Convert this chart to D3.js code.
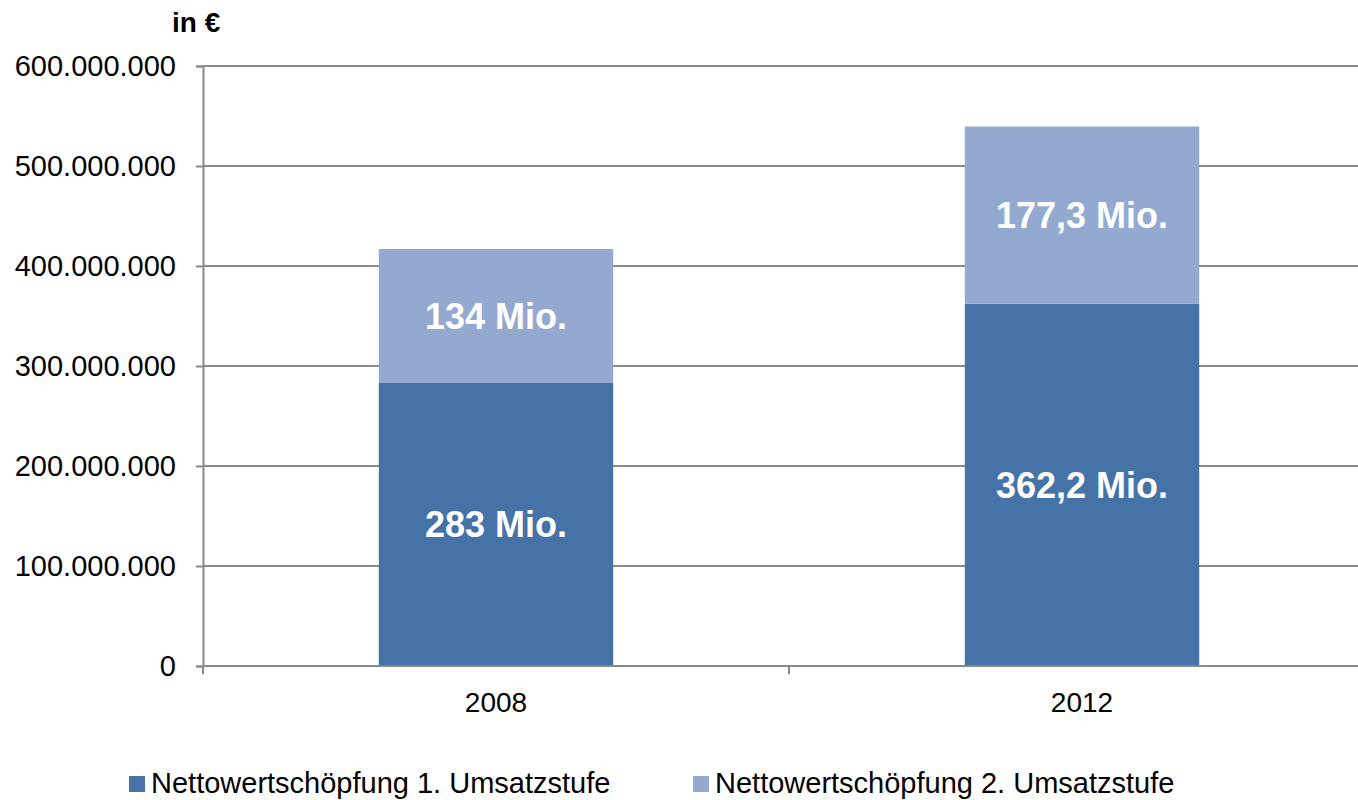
<!DOCTYPE html>
<html>
<head>
<meta charset="utf-8">
<script src="https://cdn.jsdelivr.net/npm/d3@7"></script>
<style>
  html, body { margin: 0; padding: 0; background: #fff; }
  svg { display: block; font-family: "Liberation Sans", Arial, sans-serif; }
</style>
</head>
<body>
<svg id="chart" width="1358" height="800"></svg>
<script>
const categories = ["2008", "2012"];
const series1 = [283000000, 362200000];   // Nettowertschöpfung 1. Umsatzstufe
const series2 = [134000000, 177300000];   // Nettowertschöpfung 2. Umsatzstufe
const labels1 = ["283 Mio.", "362,2 Mio."];
const labels2 = ["134 Mio.", "177,3 Mio."];
const seriesNames = ["Nettowertschöpfung 1. Umsatzstufe", "Nettowertschöpfung 2. Umsatzstufe"];
const colors = ["#4572A7", "#93A9CF"];
const yTicks = [0, 100000000, 200000000, 300000000, 400000000, 500000000, 600000000];

(function () {
const svg = d3.select("#chart");
const mLeft = 203, mRight = 1375, mTop = 66, mBottom = 666;

const x = d3.scaleBand().domain(categories).range([mLeft, mRight]).padding(0);
const y = d3.scaleLinear().domain([0, 600000000]).range([mBottom, mTop]);
const fmt = v => d3.format(",")(v).replace(/,/g, ".");
const axisColor = "#8a8a8a";

// gridlines
svg.append("g").selectAll("line").data(yTicks.filter(d => d > 0)).join("line")
  .attr("x1", mLeft).attr("x2", 1358)
  .attr("y1", d => y(d)).attr("y2", d => y(d))
  .attr("stroke", axisColor).attr("stroke-width", 2);

// y axis
const yAxis = svg.append("g").attr("transform", `translate(${mLeft},0)`)
  .call(d3.axisLeft(y).tickValues(yTicks).tickFormat(fmt).tickSize(7).tickPadding(20));
yAxis.select(".domain").attr("stroke", axisColor).attr("stroke-width", 2);
yAxis.selectAll(".tick line").attr("stroke", axisColor).attr("stroke-width", 2);
yAxis.selectAll(".tick text").attr("font-size", 29).attr("fill", "#000")
  .attr("font-family", "Liberation Sans, Arial, sans-serif");

// bars
const step = x.step();
const bw = step * 0.4;
const g = svg.append("g");
categories.forEach((c, i) => {
  const bx = x(c) + step * 0.3;
  g.append("rect").attr("x", bx).attr("width", bw)
    .attr("y", y(series1[i])).attr("height", y(0) - y(series1[i]))
    .attr("fill", colors[0]);
  g.append("rect").attr("x", bx).attr("width", bw)
    .attr("y", y(series1[i] + series2[i])).attr("height", y(0) - y(series2[i]))
    .attr("fill", colors[1]);
  g.append("text").attr("x", bx + bw / 2)
    .attr("y", (y(0) + y(series1[i])) / 2).attr("dy", "0.35em")
    .attr("text-anchor", "middle").attr("font-size", 36).attr("font-weight", "bold")
    .attr("fill", "#fff").text(labels1[i]);
  g.append("text").attr("x", bx + bw / 2)
    .attr("y", (y(series1[i]) + y(series1[i] + series2[i])) / 2).attr("dy", "0.35em")
    .attr("text-anchor", "middle").attr("font-size", 36).attr("font-weight", "bold")
    .attr("fill", "#fff").text(labels2[i]);
});

// x axis
svg.append("line").attr("x1", mLeft).attr("x2", 1358).attr("y1", mBottom).attr("y2", mBottom)
  .attr("stroke", axisColor).attr("stroke-width", 2);
const xb = [mLeft, mLeft + step, mLeft + 2 * step];
svg.append("g").selectAll("line").data(xb).join("line")
  .attr("x1", d => d).attr("x2", d => d).attr("y1", mBottom).attr("y2", mBottom + 8)
  .attr("stroke", axisColor).attr("stroke-width", 2);
svg.append("g").selectAll("text").data(categories).join("text")
  .attr("x", d => x(d) + step / 2).attr("y", 712)
  .attr("text-anchor", "middle").attr("font-size", 28).attr("fill", "#000").text(d => d);

// unit label
svg.append("text").attr("x", 172).attr("y", 32).attr("font-size", 28)
  .attr("font-weight", "bold").attr("fill", "#000").text("in €");

// legend
const legendX = [129, 693];
seriesNames.forEach((n, i) => {
  svg.append("rect").attr("x", legendX[i]).attr("y", 776).attr("width", 16).attr("height", 16)
    .attr("fill", colors[i]);
  svg.append("text").attr("x", legendX[i] + 22).attr("y", 793).attr("font-size", 29)
    .attr("fill", "#000").text(n);
});
})();
</script>
</body>
</html>
